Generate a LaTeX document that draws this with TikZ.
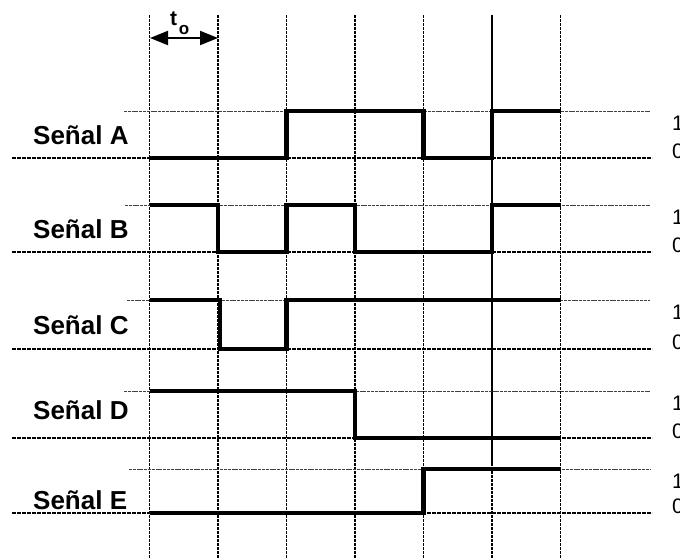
\documentclass[tikz,border=0pt]{standalone}
\usepackage{fontspec}
\setmainfont{Liberation Sans}
\usetikzlibrary{arrows.meta}
\begin{document}
\begin{tikzpicture}[x=1pt,y=-1pt,
  vline/.style={line width=1.8pt, dash pattern=on 3pt off 1pt},
  lowref/.style={line width=2pt, dash pattern=on 4pt off 1pt},
  highref/.style={line width=1pt, black!75, dash pattern=on 3pt off 0.8pt},
  sig/.style={line width=4.5pt, line join=miter},
  lab/.style={font=\fontsize{26}{30}\selectfont\bfseries, anchor=west, inner sep=0pt},
  dig/.style={font=\fontsize{21}{24}\selectfont, anchor=west, inner sep=0pt},
  tarrow/.style={{Triangle[length=18pt,width=14pt]}-{Triangle[length=18pt,width=14pt]}}]
\useasboundingbox (0,0) rectangle (680,558);
% vertical grid lines
\foreach \i in {0,...,6} {
  \coordinate (v\i) at ({149.5+68.5*\i},15);
  \draw[vline] ({149.5+68.5*\i},15) -- ({149.5+68.5*\i},558);
}
\draw[line width=1.8pt] (492,15) -- (492,465);
% reference lines: name/high/low/labely/highstart
\foreach \n/\h/\l/\ly/\hs in {A/111/158/135/124, B/205/252/229/125, C/300/349/325/127, D/391/438/410/124, E/469/513/500/129} {
  \draw[highref] (\hs,\h) -- (650,\h);
  \draw[lowref] (12,\l) -- (652,\l);
  \node[lab] (lab\n) at (33,\ly) {Señal \n};
  \node[dig] (one\n) at (672,\h+12) {1};
  \node[dig] (zero\n) at (672,\l-7) {0};
}
% signals
\draw[sig] (149.5,158) -- (286.5,158) -- (286.5,111) -- (423.5,111) -- (423.5,158) -- (492,158) -- (492,111) -- (560.5,111);
\draw[sig] (149.5,205) -- (218,205) -- (218,252) -- (286.5,252) -- (286.5,205) -- (355,205) -- (355,252) -- (492,252) -- (492,205) -- (560.5,205);
\draw[sig] (149.5,300) -- (220,300) -- (220,349) -- (286.5,349) -- (286.5,300) -- (560.5,300);
\draw[sig] (149.5,391) -- (355,391) -- (355,438) -- (560.5,438);
\draw[sig] (149.5,513) -- (423.5,513) -- (423.5,469) -- (560.5,469);
% t_o arrow
\coordinate (ta) at (150,38);
\coordinate (tb) at (218,38);
\draw[tarrow, line width=2pt] (ta) -- (tb);
\node[font=\fontsize{21}{23}\selectfont\bfseries, inner sep=0pt] (tlab) at (173.5,19) {t};
\node[font=\fontsize{17}{19}\selectfont\bfseries, inner sep=0pt] (olab) at (184,30) {o};
\end{tikzpicture}
\end{document}
